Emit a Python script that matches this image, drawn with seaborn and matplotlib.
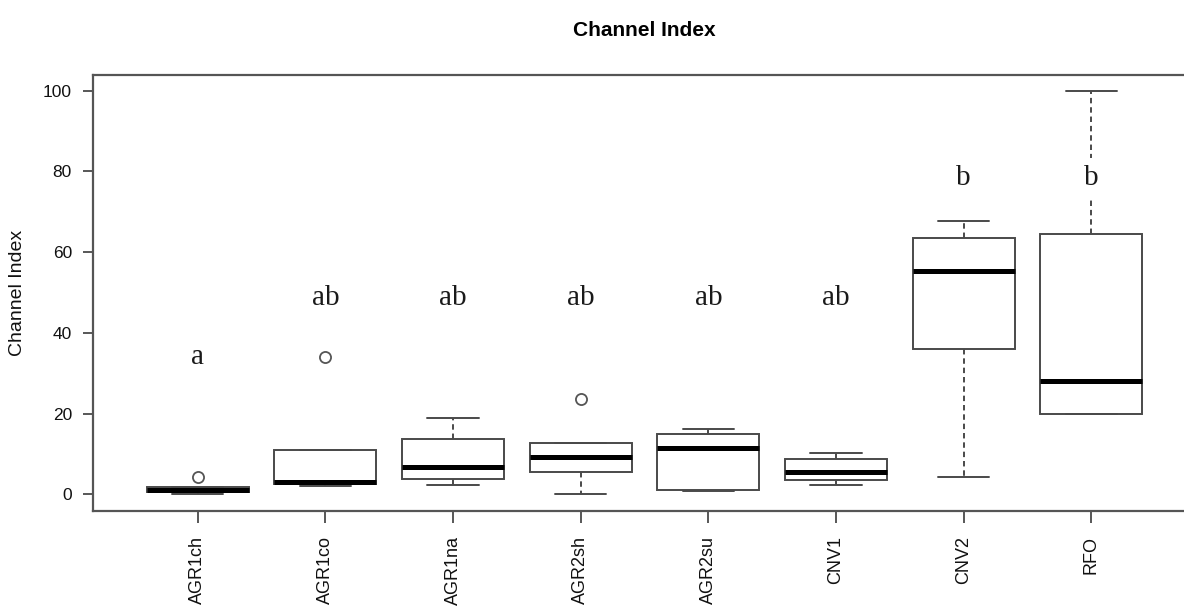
import numpy as np
import pandas as pd
import matplotlib
matplotlib.use("Agg")
import matplotlib.pyplot as plt
import seaborn as sns

# ---- data (five-number summaries + outliers) ----
groups = ["AGR1ch", "AGR1co", "AGR1na", "AGR2sh", "AGR2su", "CNV1", "CNV2", "RFO"]
whisker_low = [0.0, 2.0, 2.2, 0.2, 0.8, 2.2, 4.3, 19.8]
q1 = [0.6, 2.5, 3.7, 5.5, 1.2, 3.5, 35.9, 19.8]
median = [1.1, 3.0, 6.8, 9.3, 11.5, 5.5, 55.4, 28.1]
q3 = [1.7, 11.1, 13.6, 12.7, 14.9, 8.7, 63.6, 64.6]
whisker_high = [1.8, 11.1, 18.8, 12.7, 16.1, 10.3, 67.7, 100.0]
outliers = [[4.3], [34.1], [], [23.6], [], [], [], []]
letters = ["a", "ab", "ab", "ab", "ab", "ab", "b", "b"]
letter_y = [32.3, 46.9, 46.9, 46.9, 46.9, 46.9, 76.7, 76.7]
yticks = [0, 20, 40, 60, 80, 100]

# Build a sample per group that reproduces the summary statistics
rows = []
for g, lo, a, m, b, hi, out in zip(groups, whisker_low, q1, median, q3,
                                   whisker_high, outliers):
    if out:
        vals = [lo, a, a, m, m, b, b, hi] + out
    else:
        vals = [lo, a, m, b, hi]
    rows += [(g, v) for v in vals]
df = pd.DataFrame(rows, columns=["group", "value"])

sns.set_style("white")
plt.rcParams["font.family"] = ["Liberation Sans", "DejaVu Sans"]

W, H = 1184, 607
fig = plt.figure(figsize=(W / 100, H / 100), dpi=100)
left, right, top, bottom = 93, 1196, 74.5, 510.5
ax = fig.add_axes([left / W, (H - bottom) / H, (right - left) / W, (bottom - top) / H])

line_c = "#4a4a4a"
sns.boxplot(
    data=df, x="group", y="value", order=groups, ax=ax,
    color="white", linecolor=line_c, linewidth=1.4, width=0.8, whis=1.4,
    medianprops=dict(color="black", linewidth=3.6),
    whiskerprops=dict(linestyle=(0, (2.8, 2.0))),
    flierprops=dict(marker="o", markerfacecolor="none",
                    markeredgecolor="#555555", markersize=8, markeredgewidth=1.3),
)

for i, (lab, yv) in enumerate(zip(letters, letter_y)):
    ax.text(i, yv, lab, ha="center", va="baseline", fontsize=21,
            family=["Liberation Serif", "DejaVu Serif"], color="#1a1a1a",
            bbox=dict(facecolor="white", edgecolor="none", pad=5), zorder=5)

ax.set_xlim(-0.82, 7.82)
ax.set_ylim(-4, 104)
ax.set_yticks(yticks)
ax.set_yticklabels([str(t) for t in yticks])
ax.set_xlabel("")
ax.set_ylabel("Channel Index", fontsize=14, color="#111111", labelpad=12)
ax.set_title("Channel Index", fontsize=15, fontweight="bold", pad=28, color="#000000")

ax.tick_params(axis="y", direction="out", length=7.2, width=1.3, color=line_c,
               labelsize=12.5, pad=8, labelcolor="#111111", left=True)
ax.tick_params(axis="x", direction="out", length=8.6, width=1.3, color=line_c,
               labelsize=13, pad=10, labelcolor="#111111", labelrotation=90, bottom=True)
for lbl in ax.get_xticklabels():
    lbl.set_verticalalignment("top")

for s in ["left", "top", "bottom", "right"]:
    ax.spines[s].set_visible(True)
    ax.spines[s].set_color("#555555")
    ax.spines[s].set_linewidth(1.6)
ax.grid(False)

fig.savefig("out.png", dpi=100)
